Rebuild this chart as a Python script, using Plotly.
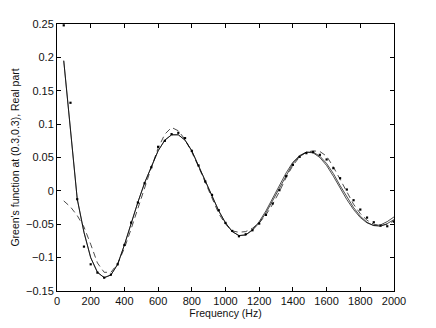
import plotly.graph_objects as go

freq = list(range(40, 2001, 40))

dots = [0.248, 0.132, -0.0125, -0.0835, -0.110, -0.1225, -0.130, -0.1255, -0.110, -0.081,
        -0.0475, -0.0175, 0.0115, 0.0355, 0.066, 0.075, 0.085, 0.087, 0.079, 0.060,
        0.038, 0.014, -0.006, -0.029, -0.048, -0.060, -0.068, -0.065, -0.059, -0.049,
        -0.036, -0.019, 0.001, 0.022, 0.039, 0.051, 0.0565, 0.058, 0.054, 0.047,
        0.034, 0.019, 0.002, -0.014, -0.028, -0.040, -0.047, -0.052, -0.053, -0.046]

solid1 = [0.195, 0.088, -0.012, -0.062, -0.100, -0.122, -0.130, -0.126, -0.110, -0.081,
          -0.048, -0.017, 0.012, 0.037, 0.060, 0.076, 0.084, 0.084, 0.076, 0.060,
          0.038, 0.014, -0.008, -0.030, -0.048, -0.061, -0.067, -0.066, -0.058, -0.046,
          -0.030, -0.011, 0.008, 0.027, 0.043, 0.053, 0.058, 0.057, 0.050, 0.038,
          0.022, 0.004, -0.013, -0.028, -0.040, -0.048, -0.052, -0.051, -0.046, -0.039]

solid2 = [0.195, 0.088, -0.012, -0.062, -0.100, -0.122, -0.130, -0.126, -0.110, -0.081,
          -0.048, -0.017, 0.012, 0.037, 0.060, 0.076, 0.084, 0.084, 0.076, 0.060,
          0.038, 0.014, -0.008, -0.030, -0.048, -0.061, -0.067, -0.066, -0.059, -0.048,
          -0.033, -0.014, 0.005, 0.024, 0.041, 0.052, 0.058, 0.058, 0.052, 0.041,
          0.026, 0.008, -0.009, -0.025, -0.038, -0.047, -0.052, -0.053, -0.049, -0.043]

dashed = [-0.015, -0.024, -0.037, -0.054, -0.080, -0.108, -0.122, -0.122, -0.109, -0.086,
          -0.057, -0.026, 0.006, 0.035, 0.064, 0.085, 0.095, 0.090, 0.077, 0.058,
          0.036, 0.012, -0.012, -0.034, -0.050, -0.060, -0.062, -0.061, -0.056, -0.048,
          -0.036, -0.020, -0.001, 0.020, 0.038, 0.051, 0.058, 0.060, 0.059, 0.052,
          0.036, 0.017, -0.002, -0.020, -0.034, -0.044, -0.050, -0.052, -0.050, -0.045]

xticks = [0, 200, 400, 600, 800, 1000, 1200, 1400, 1600, 1800, 2000]
yticks = [-0.15, -0.1, -0.05, 0, 0.05, 0.1, 0.15, 0.2, 0.25]
ytick_text = ["−0.15", "−0.1", "−0.05", "0", "0.05", "0.1", "0.15", "0.2", "0.25"]

fig = go.Figure()
fig.add_trace(go.Scatter(x=freq, y=solid2, mode="lines",
                         line=dict(color="black", width=0.7)))
fig.add_trace(go.Scatter(x=freq, y=solid1, mode="lines",
                         line=dict(color="black", width=0.7)))
fig.add_trace(go.Scatter(x=freq, y=dashed, mode="lines",
                         line=dict(color="black", width=0.7, dash="6px,4px")))
fig.add_trace(go.Scatter(x=freq, y=dots, mode="markers",
                         marker=dict(color="black", size=2.2, symbol="square",
                                     line=dict(width=0))))

axis_common = dict(
    showgrid=False, zeroline=False, showline=True, linecolor="black", linewidth=1,
    mirror="ticks", ticks="inside", ticklen=4, tickcolor="black", tickwidth=1,
    automargin=False,
    tickfont=dict(family="Liberation Sans, Arial, sans-serif", size=11, color="#111"),
)

fig.update_layout(
    width=436, height=328,
    margin=dict(l=57, r=42, t=24, b=37),
    paper_bgcolor="white", plot_bgcolor="white",
    showlegend=False,
    font=dict(family="Liberation Sans, Arial, sans-serif", size=11, color="#111"),
    xaxis=dict(range=[0, 2000], tickvals=xticks,
               title=dict(text="Frequency (Hz)", standoff=0,
                          font=dict(size=10.5)),
               **axis_common),
    yaxis=dict(range=[-0.15, 0.25], tickvals=yticks, ticktext=ytick_text,
               title=dict(text="Green's function at (0.3,0.3), Real part", standoff=4,
                          font=dict(size=10.5)),
               **axis_common),
)

fig.write_html("out.html",
               config={"displayModeBar": False, "staticPlot": True},
               post_script="document.body.style.margin='0';document.body.style.overflow='hidden';")
